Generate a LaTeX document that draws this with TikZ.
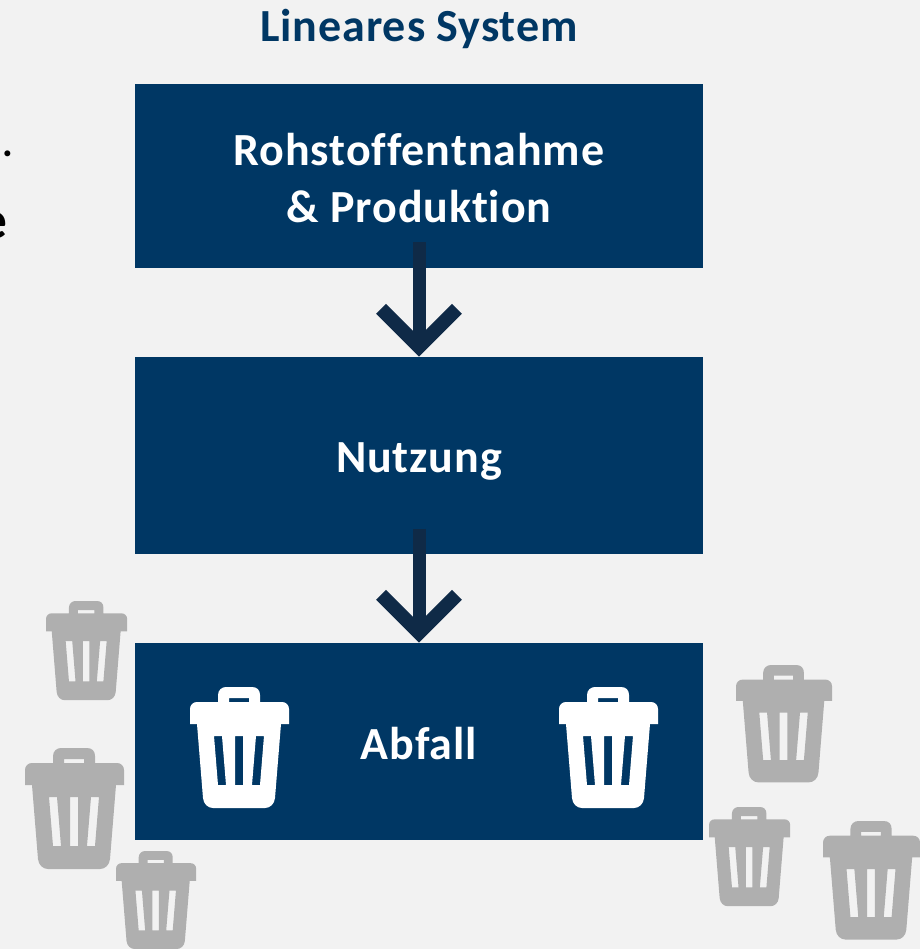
\documentclass[tikz,border=0pt]{standalone}
\usepackage{fontspec}
\setmainfont[LetterSpace=2,Ligatures=NoCommon]{Carlito}
\newfontfamily\plainfont{Carlito}
\usetikzlibrary{arrows.meta,positioning}
\definecolor{boxblue}{HTML}{003764}
\definecolor{arrowblue}{HTML}{0F2A47}
\definecolor{pagebg}{HTML}{F2F2F2}
\definecolor{bingrey}{HTML}{AFAFAF}
\tikzset{
  x=0.75pt,y=-0.75pt,
  stage/.style={fill=boxblue,text=white,minimum width=426pt,inner sep=0pt,align=center,font=\bfseries\fontsize{34.5pt}{42.75pt}\selectfont},
  flow/.style={draw=arrowblue,line width=9.75pt,-{Straight Barb[length=28.5pt,width=57pt,line width=10.5pt]}},
  pics/bin/.style={code={
    \fill[#1,even odd rule]
      (28,8) .. controls (28,3) and (32,0) .. (36,0) -- (62,0) .. controls (67,0) and (70,3) .. (70,8) -- (70,15)
      -- (92,15) .. controls (96,15) and (99,18) .. (99,22) -- (99,37) -- (91,37) -- (85,111)
      .. controls (84.5,117) and (80,121) .. (75,121) -- (23,121) .. controls (18,121) and (13.5,117) .. (13,111)
      -- (7,37) -- (0,37) -- (0,22) .. controls (0,18) and (3,15) .. (7,15) -- (28,15) -- cycle
      (39,11) -- (59,11) -- (59,15) -- (39,15) -- cycle
      (24,49) -- (32,49) -- (36,98) -- (28,98) -- cycle
      (45,49) -- (53,49) -- (53,98) -- (45,98) -- cycle
      (66,49) -- (74,49) -- (70,98) -- (62,98) -- cycle;
  }},
}
\begin{document}
\begin{tikzpicture}
\useasboundingbox (0,0) rectangle (920,949);
\fill[pagebg] (0,0) rectangle (920,949);
\node[anchor=base,font=\bfseries\fontsize{34.5pt}{38pt}\selectfont,text=boxblue] (title) at (419,41.5) {Lineares System};
\node[anchor=base west,inner sep=0pt,font=\plainfont\bfseries\fontsize{30pt}{40pt}\selectfont,text=black] (dot) at (2,156) {.};
\node[anchor=base east,font=\plainfont\bfseries\fontsize{40pt}{44pt}\selectfont,text=black,inner sep=0pt] (cut) at (7.5,238) {e};
\node[stage,minimum height=137.25pt] (roh) at (419,176) {\rule{0pt}{26.5pt}Rohstoffentnahme\\\& Produktion};
\node[stage,minimum height=147.75pt,text height=24.75pt,text depth=0pt] (nut) at (419,455.5) {Nutzung};
\node[stage,minimum height=147.75pt,text height=26.25pt,text depth=0pt] (abf) at (419,741.5) {Abfall};
\draw[flow] ([yshift=19pt]roh.south) -- (nut.north);
\draw[flow] ([yshift=19pt]nut.south) -- (abf.north);
\pic at (190,687) {bin=white};
\pic at (559,687) {bin=white};
\pic[scale=0.82] at (46,601) {bin=bingrey};
\pic at (25,748) {bin=bingrey};
\pic[scale=0.81] at (116,851) {bin=bingrey};
\pic[scale=0.97] at (736,665) {bin=bingrey};
\pic[scale=0.82] at (709,807) {bin=bingrey};
\pic[scale=0.98] at (823,821) {bin=bingrey};
\end{tikzpicture}
\end{document}
